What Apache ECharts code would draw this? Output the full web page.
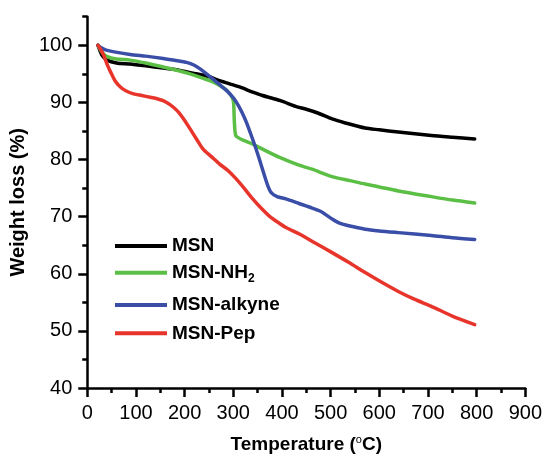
<!DOCTYPE html>
<html>
<head>
<meta charset="utf-8">
<script src="https://cdn.jsdelivr.net/npm/echarts@6/dist/echarts.min.js"></script>
<style>html,body{margin:0;padding:0;background:#fff}#c{width:545px;height:461px}</style>
</head>
<body>
<div id="c"></div>
<script>
var seriesNames = ['MSN', 'MSN-NH2', 'MSN-alkyne', 'MSN-Pep'];
var xTicks = [0, 100, 200, 300, 400, 500, 600, 700, 800, 900];
var yTicks = [40, 50, 60, 70, 80, 90, 100];

var msnT = [22, 30, 41, 60, 88, 120, 156, 190, 224, 250, 272, 298, 313, 340, 360, 397, 428, 450, 475, 503, 530, 571, 600, 639, 707, 750, 796];
var msnW = [100, 98.3, 97.4, 96.9, 96.7, 96.4, 96.0, 95.6, 95.0, 94.5, 93.8, 93.1, 92.7, 91.8, 91.2, 90.3, 89.3, 88.8, 88.1, 87.1, 86.4, 85.5, 85.2, 84.8, 84.2, 83.9, 83.6];

var nh2T = [22, 30, 41, 60, 88, 120, 156, 190, 211, 235, 258, 279, 292, 300, 302, 305, 315, 340, 365, 394, 435, 462, 503, 540, 571, 639, 707, 750, 796];
var nh2W = [100, 98.8, 98.0, 97.6, 97.4, 96.9, 96.2, 95.5, 95.0, 94.3, 93.6, 92.6, 91.6, 90.3, 87.0, 84.2, 83.6, 82.7, 81.6, 80.4, 79.0, 78.3, 77.0, 76.3, 75.7, 74.5, 73.5, 72.9, 72.4];

var alkT = [22, 30, 41, 88, 120, 156, 185, 204, 220, 231, 245, 258, 272, 286, 298, 306, 317, 327, 337, 347, 356, 364, 371, 378, 390, 408, 435, 462, 480, 503, 520, 537, 571, 600, 639, 707, 750, 796];
var alkW = [100, 99.5, 99.1, 98.4, 98.1, 97.7, 97.3, 97.0, 96.5, 95.9, 95.0, 94.1, 93.1, 92.1, 91.0, 90.1, 88.4, 86.5, 84.2, 81.8, 79.4, 77.2, 75.4, 74.2, 73.5, 73.1, 72.3, 71.5, 70.9, 69.6, 68.8, 68.4, 67.8, 67.5, 67.2, 66.7, 66.3, 66.0];

var pepT = [22, 28, 34, 41, 48, 57, 68, 80, 95, 112, 129, 145, 156, 170, 184, 198, 211, 225, 238, 255, 272, 290, 306, 323, 340, 357, 374, 390, 408, 435, 470, 503, 537, 571, 605, 639, 673, 707, 750, 796];
var pepW = [100, 99.2, 98.2, 96.6, 95.3, 93.8, 92.7, 92.0, 91.5, 91.2, 90.9, 90.6, 90.3, 89.6, 88.6, 87.1, 85.4, 83.5, 81.8, 80.5, 79.2, 78.0, 76.6, 74.9, 73.1, 71.5, 70.1, 69.1, 68.1, 67.0, 65.3, 63.7, 62.0, 60.2, 58.5, 56.9, 55.5, 54.3, 52.6, 51.1];

var colors = ['#000000', '#5cbf45', '#3a4ea8', '#e8352b'];

function zip(a, b) { return a.map(function (v, i) { return [v, b[i]]; }); }
var allData = [zip(msnT, msnW), zip(nh2T, nh2W), zip(alkT, alkW), zip(pepT, pepW)];

var FONT = 'Liberation Sans, Arial, sans-serif';
var legendTops = [236, 262.7, 295, 323.3];

var legends = seriesNames.map(function (n, i) {
  return {
    data: [n],
    left: 115,
    top: legendTops[i],
    orient: 'vertical',
    padding: 0,
    itemWidth: 52,
    itemHeight: 4,
    icon: 'rect',
    selectedMode: false,
    formatter: function (name) {
      return name === 'MSN-NH2' ? 'MSN-NH{sub|2}' : name;
    },
    textStyle: {
      fontFamily: FONT, fontSize: 19, fontWeight: 'bold', color: '#000', lineHeight: 20,
      rich: { sub: { fontFamily: FONT, fontSize: 12, fontWeight: 'bold', color: '#000', padding: [12, 0, 0, 0] } }
    }
  };
});

var series = seriesNames.map(function (n, i) {
  return {
    name: n,
    type: 'line',
    data: allData[i],
    showSymbol: false,
    symbol: 'none',
    smooth: 0.25,
    color: colors[i],
    lineStyle: { width: 3.5, color: colors[i], cap: 'round', join: 'round' },
    z: 2 + i
  };
});

var chart = echarts.init(document.getElementById('c'), null, { renderer: 'canvas' });
chart.setOption({
  animation: false,
  backgroundColor: '#fff',
  grid: { left: 87, right: 17, top: 16.7, bottom: 73, containLabel: false },
  legend: legends,
  xAxis: {
    type: 'value', min: 0, max: 900, interval: 100,
    name: 'Temperature ({sup|o}C)', nameLocation: 'middle', nameGap: 46,
    nameTextStyle: {
      fontFamily: FONT, fontSize: 19, fontWeight: 'bold', color: '#000',
      rich: { sup: { fontFamily: FONT, fontSize: 11, fontWeight: 'normal', color: '#000', padding: [0, 0, 10, 0] } }
    },
    axisLine: { show: true, lineStyle: { color: '#000', width: 2.5 } },
    axisTick: { show: true, length: 9, inside: false, lineStyle: { color: '#000', width: 2.5 } },
    minorTick: { show: true, splitNumber: 2, length: 5, lineStyle: { color: '#000', width: 2.5 } },
    axisLabel: { fontFamily: FONT, fontSize: 20, color: '#000', margin: 15,
      customValues: xTicks },
    splitLine: { show: false },
    minorSplitLine: { show: false }
  },
  yAxis: [{
    type: 'value', min: 40, max: 105, interval: 5,
    name: 'Weight loss (%)', nameLocation: 'middle', nameGap: 48,
    nameTextStyle: { fontFamily: FONT, fontSize: 20, fontWeight: 'bold', color: '#000' },
    axisLine: { show: true, lineStyle: { color: '#000', width: 2.5 } },
    axisTick: { show: true, length: 9, customValues: yTicks, lineStyle: { color: '#000', width: 2.5 } },
    axisLabel: { fontFamily: FONT, fontSize: 20, color: '#000', margin: 15, customValues: yTicks },
    splitLine: { show: false }
  }, {
    type: 'value', min: 40, max: 105, interval: 5, position: 'left',
    axisLine: { show: false },
    axisTick: { show: true, length: 5, customValues: [45, 55, 65, 75, 85, 95, 105], lineStyle: { color: '#000', width: 2.5 } },
    axisLabel: { show: false },
    splitLine: { show: false }
  }],
  series: series
});
</script>
</body>
</html>
